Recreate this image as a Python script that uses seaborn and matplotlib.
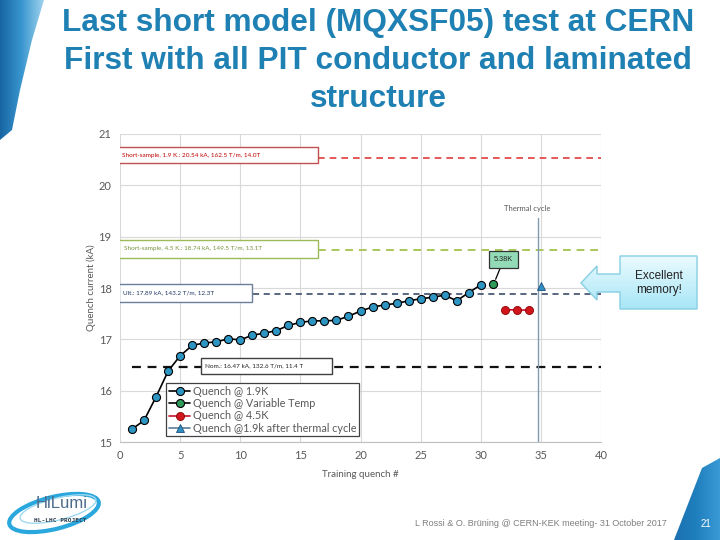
import numpy as np
import matplotlib
matplotlib.use("Agg")
import matplotlib.pyplot as plt
import seaborn as sns
from matplotlib.patches import Rectangle, Polygon, Ellipse
from matplotlib.colors import LinearSegmentedColormap

# ---------------- data ----------------
quench_19_x = list(range(1, 31))
quench_19_y = [15.25, 15.42, 15.88, 16.38, 16.68, 16.88, 16.93, 16.95, 17.01, 16.99,
               17.08, 17.12, 17.17, 17.27, 17.33, 17.36, 17.36, 17.37, 17.45, 17.55,
               17.63, 17.67, 17.70, 17.75, 17.79, 17.82, 17.86, 17.75, 17.91, 18.06]
var_temp_x = [31]
var_temp_y = [18.07]
quench_45_x = [32, 33, 34]
quench_45_y = [17.58, 17.57, 17.57]
thermal_x = [35]
thermal_y = [18.04]

series_labels = ["Quench @ 1.9K", "Quench @ Variable Temp", "Quench @ 4.5K",
                 "Quench @1.9k after thermal cycle"]

ref_levels = [20.54, 18.74, 17.89, 16.47]
ref_texts = ["Short-sample, 1.9 K.: 20.54 kA, 162.5 T/m, 14.0T",
             "Short-sample, 4.5 K.: 18.74 kA, 149.5 T/m, 13.1T",
             "Ult.: 17.89 kA, 143.2 T/m, 12.3T",
             "Nom.: 16.47 kA, 132.6 T/m, 11.4 T"]
thermal_cycle_at = 34.8
var_temp_note = "5.38K"

x_ticks = [0, 5, 10, 15, 20, 25, 30, 35, 40]
y_ticks = [15, 16, 17, 18, 19, 20, 21]

title_lines = ["Last short model (MQXSF05) test at CERN",
               "First with all PIT conductor and laminated",
               "structure"]
footer = "L Rossi & O. Brüning @ CERN-KEK meeting- 31 October 2017"
page_no = "21"

# ---------------- style ----------------
sns.set_style("whitegrid")
plt.rcParams["font.family"] = ["Lato", "DejaVu Sans"]

fig = plt.figure(figsize=(7.2, 5.4), dpi=100)
fig.patch.set_facecolor("white")

# background overlay (pixel coords)
bg = fig.add_axes([0, 0, 1, 1], zorder=0)
bg.set_xlim(0, 720); bg.set_ylim(540, 0); bg.axis("off")

# top-left blue band with gradient
grad = np.linspace(0, 1, 64).reshape(1, -1)
cmap_band = LinearSegmentedColormap.from_list("band", ["#1766a3", "#3a97cf", "#9fd2ee"])
poly = Polygon([(0, 0), (44, 0), (32, 40), (20, 90), (12, 130), (0, 140)],
               closed=True, transform=bg.transData, fc="none", ec="none")
bg.add_patch(poly)
im = bg.imshow(grad, extent=(0, 44, 140, 0), cmap=cmap_band, aspect="auto", zorder=1)
im.set_clip_path(poly)

# bottom-right band
poly2 = Polygon([(702, 468), (720, 458), (720, 540), (674, 540)], closed=True,
                transform=bg.transData, fc="none", ec="none")
bg.add_patch(poly2)
cmap_band2 = LinearSegmentedColormap.from_list("band2", ["#1b6fb0", "#1f7fbd", "#3a9ad6"])
im2 = bg.imshow(grad, extent=(672, 720, 540, 458), cmap=cmap_band2, aspect="auto", zorder=1)
im2.set_clip_path(poly2)
bg.text(706, 524, page_no, color="white", fontsize=7, ha="center", va="center",
        family=["Liberation Sans", "DejaVu Sans"])

# logo
bg.add_patch(Ellipse((54, 513), 92, 32, angle=-14, fc="none", ec="#2aa7dc", lw=3, zorder=2))
bg.add_patch(Ellipse((58, 509), 78, 22, angle=-14, fc="none", ec="#9fd9f0", lw=1, zorder=2))
bg.text(62, 504, "HiLumi", fontsize=12, color="#4d6b8a", ha="center", va="center",
        family=["Liberation Sans", "DejaVu Sans"], zorder=3)
bg.text(60, 521, "HL-LHC PROJECT", fontsize=4.5, color="#2f3f50", ha="center", va="center",
        family=["DejaVu Sans Mono", "DejaVu Sans"], weight="bold", zorder=3)

# footer
bg.text(667, 524, footer, fontsize=6.5, color="#7f7f7f", ha="right", va="center",
        family=["Liberation Sans", "DejaVu Sans"])

# title
title_color = "#1f80b3"
for yy, line in zip([23, 61, 99], title_lines):
    bg.text(378, yy, line, fontsize=22.8, color=title_color, ha="center", va="center",
            weight="bold", family=["Liberation Sans", "DejaVu Sans"])

# ---------------- main axes ----------------
ax = fig.add_axes([120 / 720, 1 - 442 / 540, 481 / 720, 308 / 540], zorder=2)
ax.set_facecolor("white")

# reference lines
ref_colors = ["#e23b3b", "#a8c75a", "#2c3e5c", "#111111"]
ref_starts = [16.5, 16.5, 11.1, 1.0]
ref_lw = [1.2, 1.4, 1.1, 1.6]
for lev, c, xs, lw in zip(ref_levels, ref_colors, ref_starts, ref_lw):
    ax.plot([xs, 40], [lev, lev], color=c, lw=lw, dashes=(4, 3), zorder=2)

# label boxes
box_specs = [  # x0, width, y0, height, edge, text colour
    (-0.15, 16.6, 20.43, 0.32, "#c0504d", "#c00000"),
    (-0.05, 16.55, 18.59, 0.345, "#9bbb59", "#77933c"),
    (-0.1, 11.1, 17.73, 0.35, "#6a7f99", "#1f3864"),
    (6.73, 10.87, 16.32, 0.32, "#404040", "#222222"),
]
for (x0, w, y0, h, ec, tc), txt in zip(box_specs, ref_texts):
    ax.add_patch(Rectangle((x0, y0), w, h, fc="white", ec=ec, lw=1.0, zorder=3))
    ax.text(x0 + 0.35, y0 + h / 2, txt, fontsize=4.6, color=tc, ha="left", va="center", zorder=4)

# thermal cycle line
ax.plot([thermal_cycle_at, thermal_cycle_at], [15, 19.36], color="#7f9bb2", lw=1.0, zorder=2)
ax.text(33.9, 19.54, "Thermal cycle", fontsize=5.5, color="#595959", ha="center", va="center")

# series
mk = dict(markersize=5.8, markeredgecolor="black", markeredgewidth=0.8)
sns.lineplot(x=quench_19_x, y=quench_19_y, ax=ax, color="black", lw=1.2, marker="o",
             markerfacecolor="#2e95c2", label=series_labels[0], sort=False, zorder=5, **mk)
sns.lineplot(x=var_temp_x, y=var_temp_y, ax=ax, color="black", lw=1.2, marker="o",
             markerfacecolor="#2f9a5a", label=series_labels[1], sort=False, zorder=5, **mk)
sns.lineplot(x=quench_45_x, y=quench_45_y, ax=ax, color="#c8102e", lw=1.2, marker="o",
             markerfacecolor="#d0161c", label=series_labels[2], sort=False, zorder=5,
             markersize=5.8, markeredgecolor="#8a0000", markeredgewidth=0.6)
sns.lineplot(x=thermal_x, y=thermal_y, ax=ax, color="#5a7d99", lw=1.2, marker="^",
             markerfacecolor="#2e8fc2", label=series_labels[3], sort=False, zorder=5,
             markersize=5.5, markeredgecolor="#1f4e79", markeredgewidth=0.6)

# 5.38K annotation
ax.annotate(var_temp_note, xy=(31.15, 18.12), xytext=(31.9, 18.55), fontsize=5.3,
            ha="center", va="center", color="#222222", zorder=6,
            family=["Liberation Sans", "DejaVu Sans"],
            bbox=dict(boxstyle="square,pad=0.7", fc="#93dbb6", ec="#333333", lw=0.9),
            arrowprops=dict(arrowstyle="-", color="black", lw=0.9, shrinkA=0, shrinkB=2))

# axes formatting
ax.set_xlim(0, 40)
ax.set_ylim(15, 21)
ax.set_xticks(x_ticks)
ax.set_yticks(y_ticks)
ax.grid(True, color="#d9d9d9", lw=0.8)
for s in ["top", "right", "left"]:
    ax.spines[s].set_visible(False)
ax.spines["bottom"].set_color("#bfbfbf")
ax.tick_params(axis="both", labelsize=8, labelcolor="#595959", length=0, pad=6)
ax.set_xlabel("Training quench #", fontsize=7, color="#595959", labelpad=6)
ax.set_ylabel("Quench current (kA)", fontsize=7, color="#595959", labelpad=2)

leg = ax.legend(loc="upper left", bbox_to_anchor=(0.0956, 0.1916), fontsize=7.8,
                frameon=True, fancybox=False, borderpad=0.25, labelspacing=0.12,
                handlelength=2.0, handletextpad=0.2, borderaxespad=0)
leg.get_frame().set_edgecolor("#404040")
leg.get_frame().set_linewidth(0.9)
leg.get_frame().set_alpha(1)
for t in leg.get_texts():
    t.set_color("#595959")
leg.set_zorder(7)

# ---------------- callout overlay ----------------
ov = fig.add_axes([0, 0, 1, 1], zorder=10)
ov.set_xlim(0, 720); ov.set_ylim(540, 0); ov.axis("off")
ov.patch.set_alpha(0)
callout = Polygon([(697, 256), (697, 309), (620, 309), (620, 292), (597, 292), (597, 300),
                   (581, 283), (597, 266), (597, 274), (620, 274), (620, 256)],
                  closed=True, transform=ov.transData, fc="none", ec="none")
ov.add_patch(callout)
cmap_c = LinearSegmentedColormap.from_list("c", ["#ecfbff", "#a8e6f6"])
gradv = np.linspace(0, 1, 64).reshape(-1, 1)
im3 = ov.imshow(gradv, extent=(580, 698, 309, 255), cmap=cmap_c, aspect="auto", zorder=1)
im3.set_clip_path(callout)
ov.add_patch(Polygon(callout.get_xy(), closed=True, fc="none", ec="#86cfe3", lw=1.0, zorder=2))
ov.text(659, 283, "Excellent\nmemory!", fontsize=8.5, color="#222222", ha="center",
        va="center", linespacing=1.3, family=["Liberation Sans", "DejaVu Sans"], zorder=3)

fig.savefig("out.png", dpi=100)
